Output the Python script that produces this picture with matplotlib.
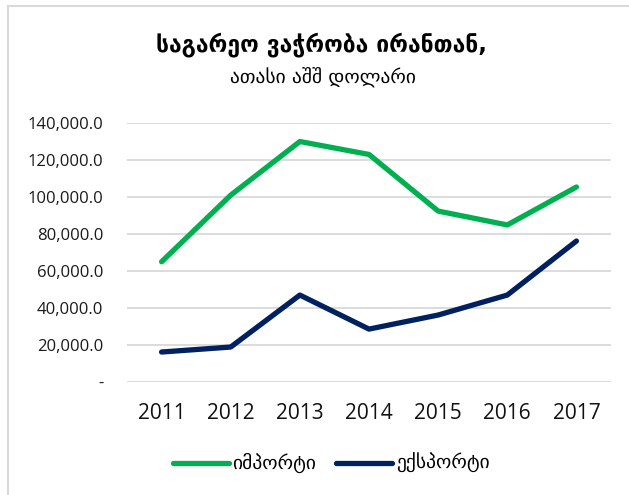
import matplotlib
matplotlib.use("Agg")
import matplotlib.pyplot as plt
from matplotlib.ticker import FuncFormatter
from matplotlib.patches import Rectangle

years = ["2011", "2012", "2013", "2014", "2015", "2016", "2017"]
imports = [65000, 101000, 130000, 123000, 92400, 84900, 105400]
exports = [16200, 18900, 47000, 28600, 36200, 47000, 76200]
series_names = ["იმპორტი", "ექსპორტი"]
title = "საგარეო ვაჭრობა ირანთან,"
subtitle = "ათასი აშშ დოლარი"

green = "#00B050"
navy = "#002060"
grid = "#D9D9D9"
num_font = "Open Sans"
geo_font = ["DejaVu Sans"]

W, H = 629, 495
fig = plt.figure(figsize=(W / 100, H / 100), dpi=100)

# chart border (only the left/top edges are inside the picture)
fig.patches.append(Rectangle((8 / W, -0.1), 1.2, 1.1 - 6 / H, transform=fig.transFigure,
                             fill=False, edgecolor=grid, linewidth=1.5))

ax = fig.add_axes([127 / W, 1 - 382 / H, (611 - 127) / W, (382 - 123) / H])
x = range(len(years))
ax.plot(x, imports, color=green, linewidth=3.8, solid_capstyle="round", solid_joinstyle="round")
ax.plot(x, exports, color=navy, linewidth=3.8, solid_capstyle="round", solid_joinstyle="round")

ax.set_xlim(-0.5, len(years) - 0.5)
ax.set_ylim(0, 140000)
ax.set_yticks(range(0, 140001, 20000))
ax.yaxis.set_major_formatter(FuncFormatter(lambda v, p: "-" if v == 0 else f"{v:,.1f}"))
ax.set_xticks(list(x))
ax.set_xticklabels(years)
for lab in ax.get_yticklabels():
    lab.set_fontfamily(num_font)
    lab.set_fontsize(12)
for lab in ax.get_xticklabels():
    lab.set_fontfamily(num_font)
    lab.set_fontsize(15)
ax.tick_params(axis="y", length=0, pad=17, colors="#1a1a1a")
ax.tick_params(axis="x", length=0, pad=15, colors="#111111")
ax.grid(axis="y", color=grid, linewidth=1.3)
ax.set_axisbelow(True)
for s in ax.spines.values():
    s.set_visible(False)

fig.text(322 / W, 1 - 45 / H, title, ha="center", va="center", fontsize=16.5,
         fontweight="bold", family=geo_font)
fig.text(323 / W, 1 - 77 / H, subtitle, ha="center", va="center", fontsize=14,
         family=geo_font)

# legend
ly = 1 - 463 / H
fig.add_artist(plt.Line2D([173 / W, 229 / W], [ly, ly], color=green, linewidth=3.8,
                          solid_capstyle="round", transform=fig.transFigure))
fig.text(232 / W, ly, series_names[0], ha="left", va="center", fontsize=14, family=geo_font)
fig.add_artist(plt.Line2D([336 / W, 392 / W], [ly, ly], color=navy, linewidth=3.8,
                          solid_capstyle="round", transform=fig.transFigure))
fig.text(396 / W, ly, series_names[1], ha="left", va="center", fontsize=14, family=geo_font)

fig.savefig("out.png", dpi=100)
